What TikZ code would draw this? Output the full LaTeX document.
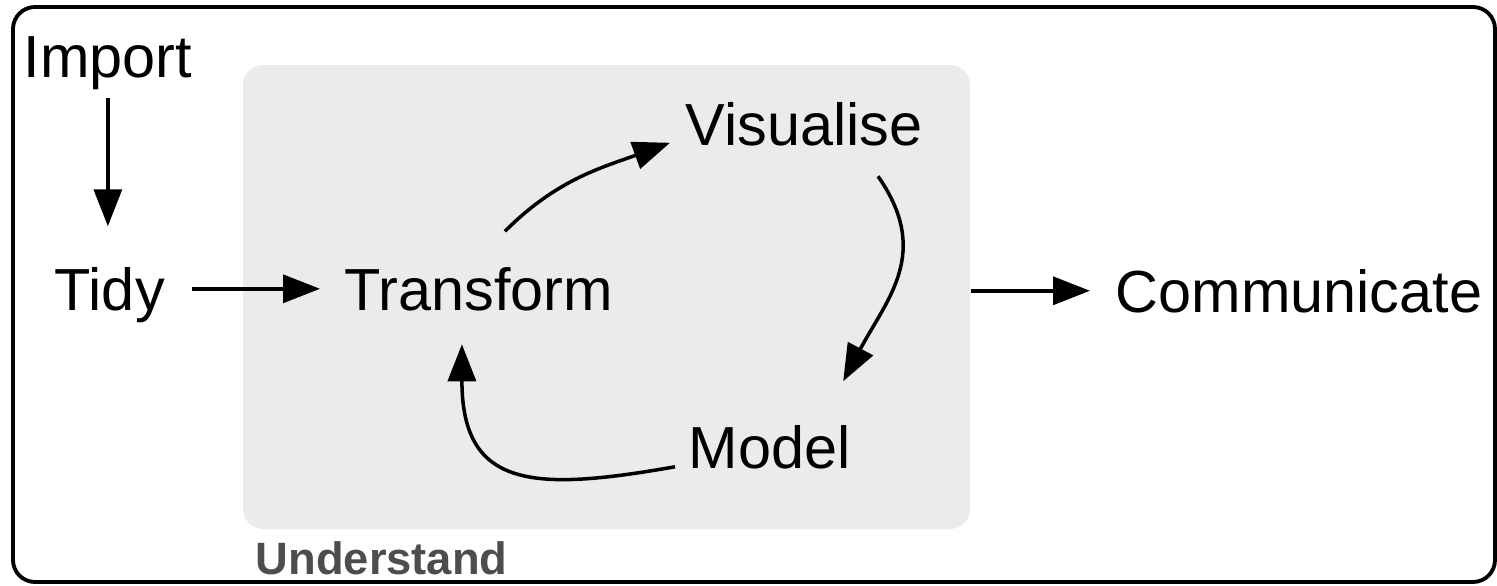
\documentclass[tikz,border=0pt]{standalone}
\usepackage{fontspec}
\setmainfont{Liberation Sans}
\usepackage{tikz}
\usetikzlibrary{positioning,arrows.meta}
\definecolor{boxGray}{RGB}{235,235,235}
\definecolor{labelGray}{RGB}{77,77,77}
\tikzstyle{frameStyle} = [color=black, line width=1.1pt, rounded corners = .22cm]
\tikzstyle{understandBox} = [fill=boxGray, rounded corners = .2cm, inner sep=0pt, minimum width=7.27cm, minimum height=4.64cm]
\tikzstyle{understandText} = [color=labelGray, inner sep=0pt, anchor=base west, font=\fontsize{12.9}{15}\selectfont\bfseries]
\tikzstyle{stageText} = [inner sep=0pt, anchor=base west, font=\fontsize{16.9}{20}\selectfont]
\tikzstyle{flowArrow} = [-{Triangle[length=.37cm, width=.28cm]}, line width=1pt]

\begin{document}
\begin{tikzpicture}
  \useasboundingbox (0,0) rectangle (14.97,-5.86);
  \draw [frameStyle] (0.13,-0.07) rectangle (14.95,-5.82);
  \node [understandBox] (box) at (6.065,-2.97) {};
  \node [understandText] (understand) at (2.55,-5.74) {Understand};

  \node [stageText] (import) at (0.23,-0.78) {Import};
  \node [stageText] (tidy) at (0.54,-3.10) {Tidy};
  \node [stageText] (transform) at (3.44,-3.10) {Transform};
  \node [stageText] (visualise) at (6.85,-1.45) {Visualise};
  \node [stageText] (model) at (6.88,-4.68) {Model};
  \node [stageText] (communicate) at (11.15,-3.12) {Communicate};

  \draw [flowArrow, shorten <=.07cm, shorten >=.40cm] (import.south) -- (import.south |- tidy.north);
  \draw [flowArrow, shorten <=.27cm, shorten >=.24cm] (tidy.east |- transform) -- (transform);
  \draw [flowArrow, shorten >=.25cm] (box.east |- communicate) -- (communicate);

  \draw [flowArrow] ([shift={(0.26,0.35)}]transform.north) to [out=45, in=200] ([shift={(-0.15,-0.19)}]visualise.west);
  \draw [flowArrow] ([shift={(-0.45,-0.30)}]visualise.south east) to [out=-55, in=62, looseness=1.15] ([shift={(-0.08,0.43)}]model.north east);
  \draw [flowArrow] ([shift={(-0.13,-0.20)}]model.west) to [out=190, in=270, looseness=1.5] ([shift={(-0.17,-0.33)}]transform.south);
\end{tikzpicture}
\end{document}
